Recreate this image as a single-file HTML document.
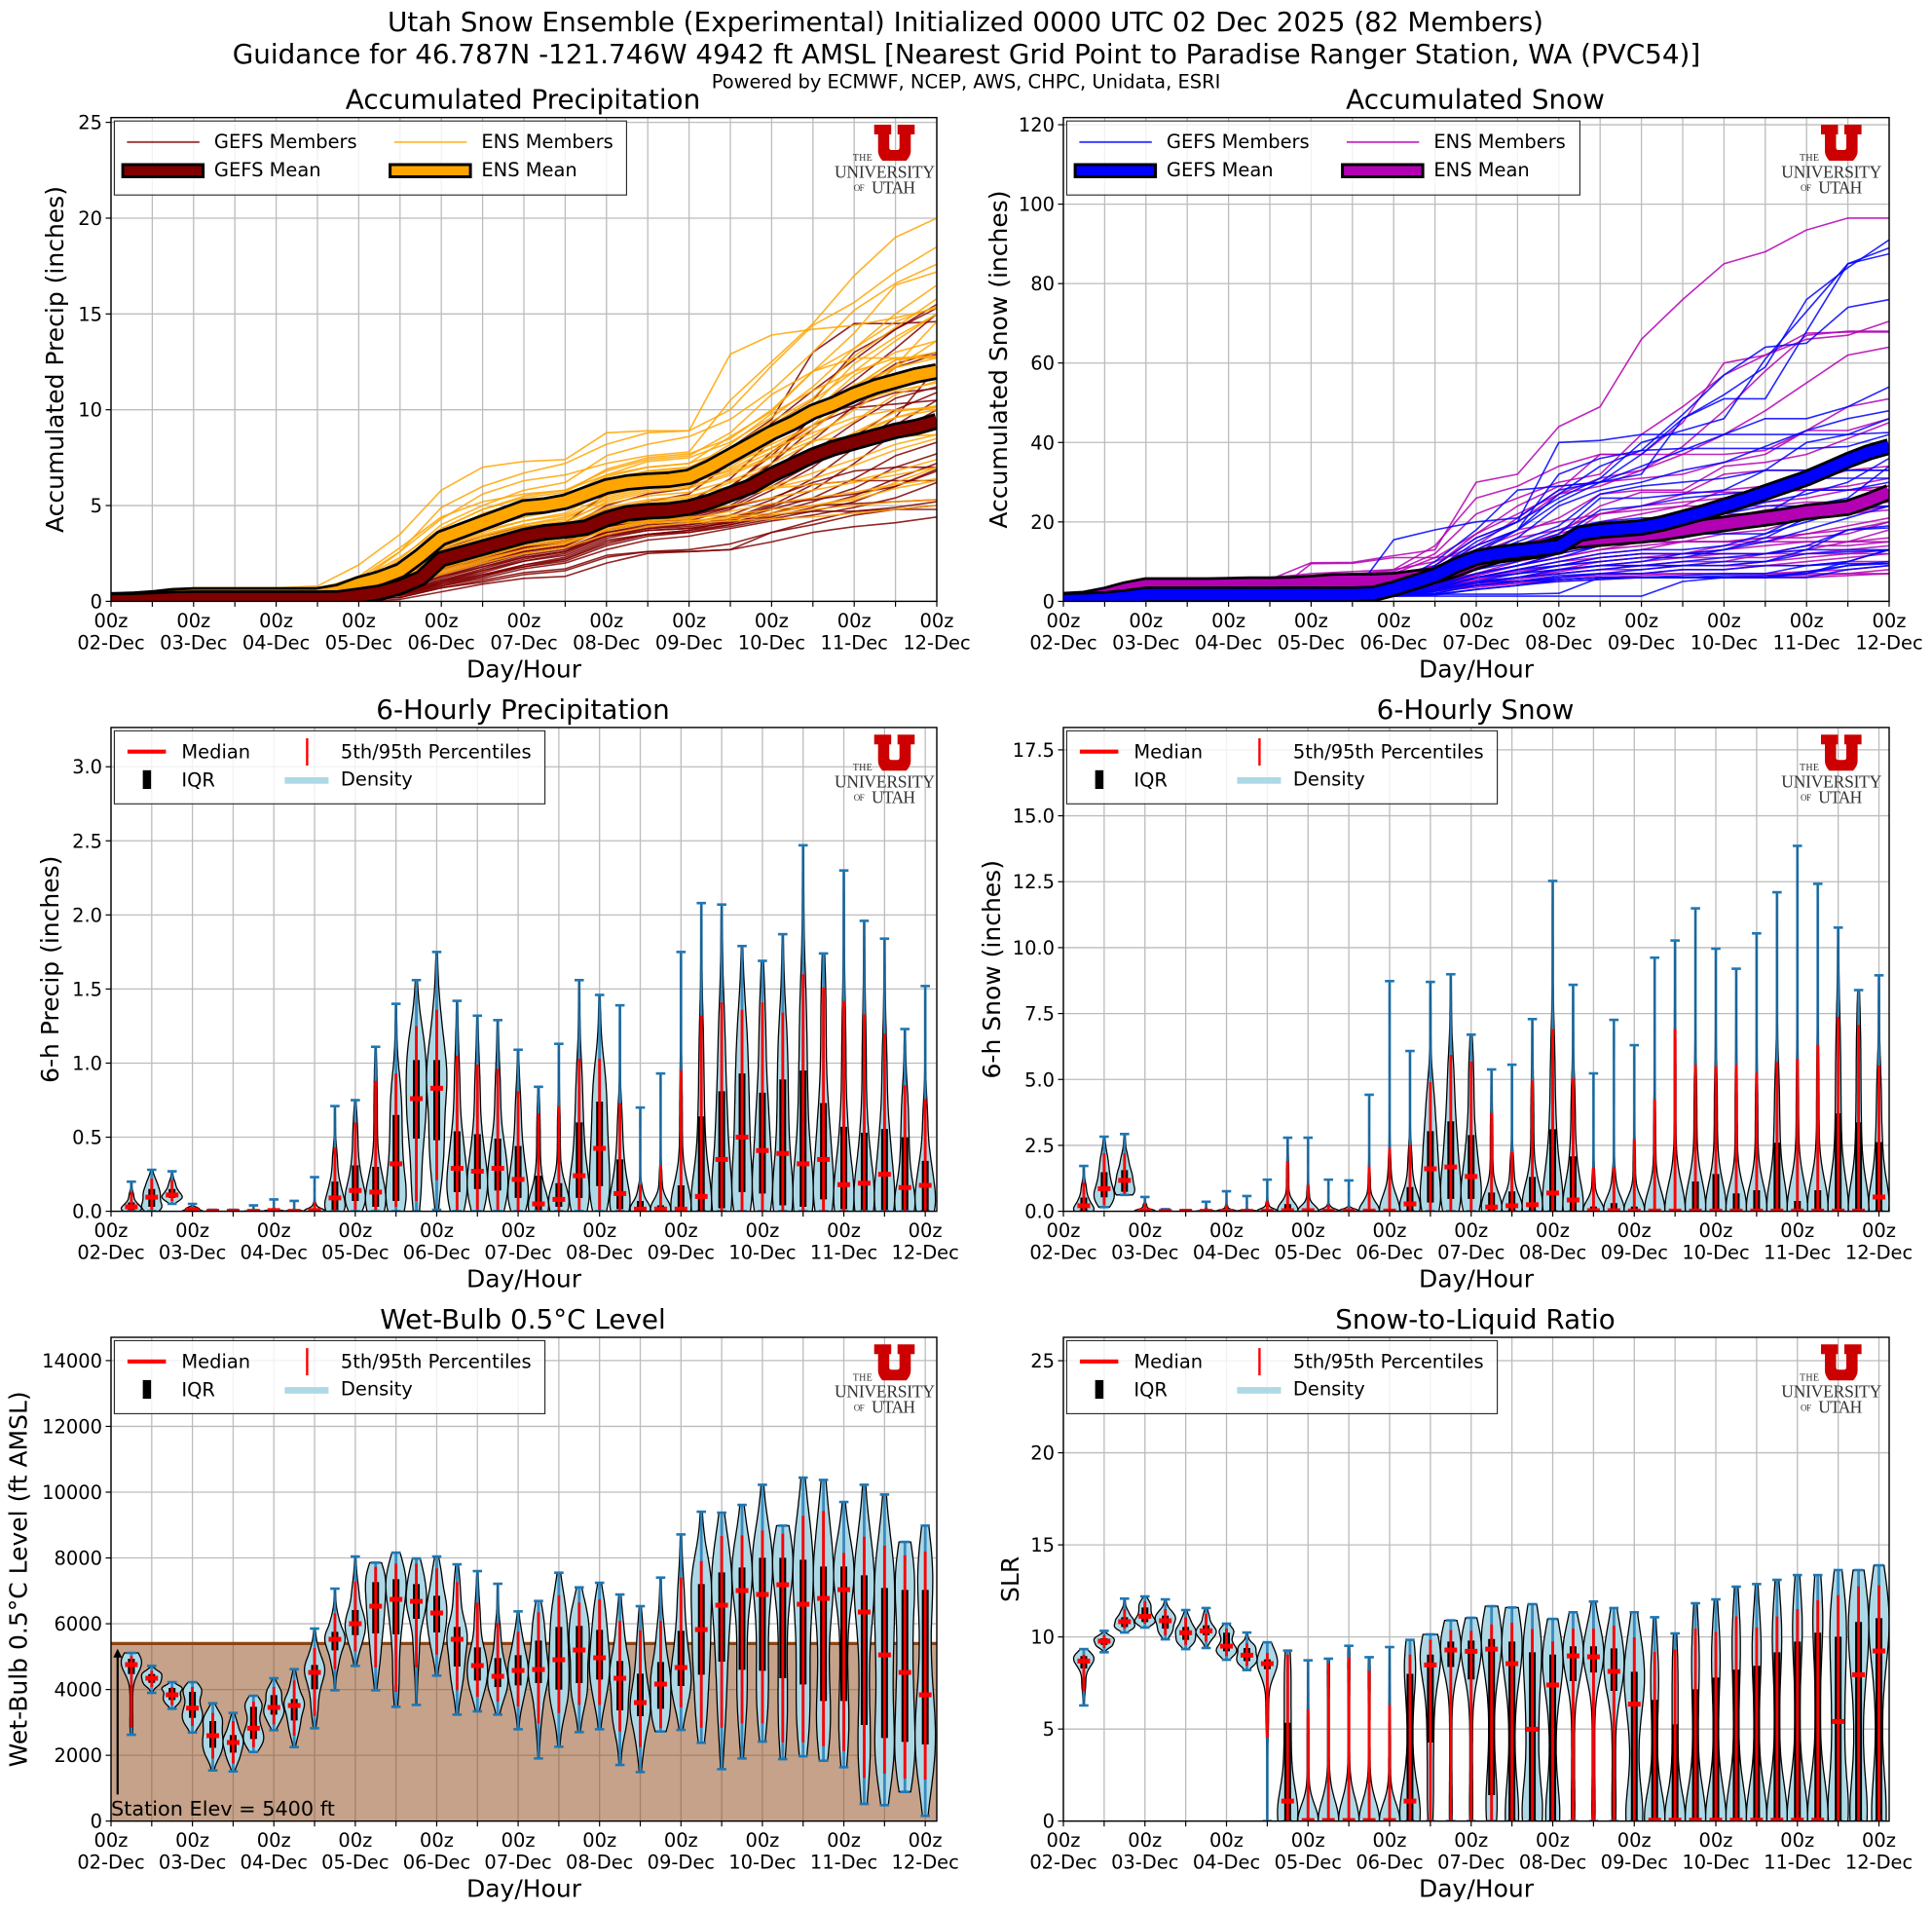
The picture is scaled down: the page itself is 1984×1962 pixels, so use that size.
<!DOCTYPE html>
<html lang="en">
<head>
<meta charset="utf-8">
<title>Utah Snow Ensemble</title>
<style>
html,body{margin:0;padding:0;background:#fff;}
svg{display:block;}
text{font-family:"DejaVu Sans","Liberation Sans",sans-serif;fill:#000;}
.logo-text{font-family:"Liberation Serif",serif;fill:#333;}
</style>
</head>
<body>
<svg id="figure" xmlns="http://www.w3.org/2000/svg" width="1984" height="1962" viewBox="0 0 1984 1962">
  <rect x="0" y="0" width="1984" height="1962" fill="#fff"/>
  <text x="991.5" y="32" text-anchor="middle" font-size="27.8">Utah Snow Ensemble (Experimental) Initialized 0000 UTC 02 Dec 2025 (82 Members)</text>
  <text x="992.5" y="65" text-anchor="middle" font-size="27.8">Guidance for 46.787N -121.746W 4942 ft AMSL [Nearest Grid Point to Paradise Ranger Station, WA (PVC54)]</text>
  <text x="992" y="90.5" text-anchor="middle" font-size="19.44">Powered by ECMWF, NCEP, AWS, CHPC, Unidata, ESRI</text>
  <g id="panel-accum-precip"></g>
  <g id="panel-accum-snow"></g>
  <g id="panel-6h-precip"></g>
  <g id="panel-6h-snow"></g>
  <g id="panel-wet-bulb"></g>
  <g id="panel-slr"></g>
</svg>
<script>
/* ---------- categories and tick labels ---------- */
const dayTickHours = [0,24,48,72,96,120,144,168,192,216,240];
const halfDayTickHours = [12,36,60,84,108,132,156,180,204,228];
const hourTickLabel = '00z';
const dayTickLabels = ['02-Dec','03-Dec','04-Dec','05-Dec','06-Dec','07-Dec','08-Dec','09-Dec','10-Dec','11-Dec','12-Dec'];
const memberHours = [0,12,24,36,48,60,72,84,96,108,120,132,144,156,168,180,192,204,216,228,240];
const meanHours = [0,6,12,18,24,30,36,42,48,54,60,66,72,78,84,90,96,102,108,114,120,126,132,138,144,150,156,162,168,174,180,186,192,198,204,210,216,222,228,234,240];
const violinHours = [6,12,18,24,30,36,42,48,54,60,66,72,78,84,90,96,102,108,114,120,126,132,138,144,150,156,162,168,174,180,186,192,198,204,210,216,222,228,234,240];

const accumPrecipTicks = [0,5,10,15,20,25];
const accumSnowTicks = [0,20,40,60,80,100,120];
const precip6hTicks = [0,0.5,1,1.5,2,2.5,3];
const precip6hTickLabels = ['0.0','0.5','1.0','1.5','2.0','2.5','3.0'];
const snow6hTicks = [0,2.5,5,7.5,10,12.5,15,17.5];
const snow6hTickLabels = ['0.0','2.5','5.0','7.5','10.0','12.5','15.0','17.5'];
const wetBulbTicks = [0,2000,4000,6000,8000,10000,12000,14000];
const slrTicks = [0,5,10,15,20,25];
const stationElevFt = 5400;

/* ---------- accumulated precipitation (inches) ---------- */
const precipGefsMean = [.02,.03,.07,.12,.14,.14,.14,.14,.14,.14,.14,.15,.3,.45,.75,1.2,2.2,2.5,2.8,3.1,3.4,3.6,3.7,3.85,4.3,4.6,4.7,4.75,4.9,5.2,5.6,6,6.6,7.1,7.6,8,8.3,8.6,8.9,9.1,9.4];
const precipEnsMean = [.05,.08,.15,.27,.31,.31,.31,.31,.31,.31,.32,.5,.9,1.2,1.6,2.4,3.3,3.7,4.1,4.5,4.9,5,5.2,5.6,6,6.2,6.3,6.35,6.5,7,7.6,8.2,8.8,9.3,9.9,10.3,10.8,11.2,11.5,11.8,12];
const precipEnsMembers = [
[.3,.5,.7,.7,.7,.7,1.2,2.6,4.3,5.6,6.3,6.6,7.2,7.6,7.8,10.5,12.5,14.5,17,19,20],
[.3,.5,.7,.7,.7,.8,1.9,3.5,5.8,7,7.3,7.4,8.8,8.9,8.9,12.9,13.9,14.2,14.4,14.8,15.3],
[.2,.5,.6,.6,.6,.6,1,2.6,4.9,6,6.7,7.2,8.2,8.8,8.9,10,12.3,14.4,15.6,17.2,18.5],
[.2,.4,.6,.6,.6,.6,.9,2.2,4,5,5.8,6.2,7.6,8.2,8.6,9.5,11,13,15.2,16.6,17.6],
[.2,.4,.6,.6,.6,.6,1.1,2.3,3.8,4.8,5.5,5.8,6.8,7.4,7.6,8.8,10.8,12,14,16.5,17.2],
[.2,.4,.5,.5,.5,.6,1.3,2.8,4.4,5.2,5.6,5.8,6.6,7,7.2,8.6,9.9,12,13.2,15,16.5],
[.2,.4,.6,.6,.6,.6,.8,1.9,3.5,4.6,5.2,5.4,6.4,6.8,7,8,9.4,10.6,12.8,14.3,15.8],
[.2,.4,.5,.5,.5,.6,.9,2,3.6,4.5,5.1,5.5,6.6,7.3,7.5,8.3,9.6,11.2,13.2,14.6,15.4],
[.2,.4,.6,.6,.6,.6,1,2.1,3.7,4.3,4.8,5.2,6.2,6.8,7,7.6,8.8,10.2,12.4,13.8,15],
[.2,.4,.5,.5,.5,.5,.7,1.6,3,3.9,4.5,4.9,5.9,6.4,6.6,7.4,8.6,9.9,11.8,13,13.6],
[.2,.4,.6,.6,.6,.6,.9,1.8,3.2,4.1,4.8,5.1,6,6.5,6.7,7.3,8.2,9.2,11.2,12.6,13],
[.2,.4,.5,.5,.5,.6,.8,1.7,2.9,3.8,4.4,4.8,5.6,6.1,6.3,7,8.3,9.8,11.2,12.6,12.8],
[.2,.4,.5,.5,.5,.5,.8,1.5,2.8,3.6,4.2,4.5,5.5,6,6.2,6.8,7.8,9,10.6,12.2,12.7],
[.2,.3,.5,.5,.5,.5,.6,1.4,2.6,3.4,4,4.4,5.3,5.8,6,6.7,7.6,8.6,10,11.4,12.3],
[.2,.3,.4,.4,.4,.5,.7,1.5,2.7,3.3,3.9,4.2,5.1,5.5,5.7,6.3,7.2,8.3,9.4,10.8,11.5],
[.2,.3,.4,.4,.4,.4,.6,1.3,2.4,3.1,3.7,4,4.9,5.3,5.5,6,6.8,7.8,8.8,9.6,10.2],
[.2,.3,.5,.5,.5,.5,.6,1.2,2.3,3,3.5,3.8,4.7,5.1,5.3,5.8,6.6,7.4,8.6,9.6,10],
[.2,.3,.4,.4,.4,.4,.5,1.1,2.1,2.8,3.4,3.6,4.5,5,5.2,5.6,6.3,7.2,8,8.8,9.3],
[.2,.3,.4,.4,.4,.4,.5,1,2,2.7,3.2,3.5,4.4,4.8,5,5.4,6,6.7,7.4,8.2,8.7],
[.2,.3,.4,.4,.4,.4,.5,.9,1.9,2.6,3.1,3.4,4.2,4.6,4.8,5.3,5.9,6.4,7.1,7.9,8.5],
[.2,.3,.4,.4,.4,.4,.4,.8,1.7,2.4,3,3.3,4,4.4,4.6,5,5.4,5.8,6.2,6.6,7],
[.2,.3,.3,.3,.3,.4,.5,.9,1.8,2.4,2.9,3.1,3.8,4.2,4.3,4.7,5.1,5.4,5.7,6.1,6.4],
[.2,.3,.4,.4,.4,.4,.4,.7,1.5,2.2,2.7,3,3.7,4.1,4.2,4.3,4.5,4.8,5,5.2,5.3],
[.2,.3,.3,.3,.3,.3,.4,.6,1.4,2,2.5,2.8,3.5,3.9,4.1,4.2,4.3,4.4,4.6,4.8,5],
[.2,.4,.6,.6,.6,.6,.8,2,3.8,4.8,5.4,5.7,6.9,7.5,7.7,8.5,10,12,12.7,12.7,12.7],
[.2,.4,.5,.5,.5,.5,.9,2.1,3.4,4.4,5,5.3,6.3,6.7,6.9,8.2,9.8,11,12,12.7,12.8],
[.2,.3,.5,.5,.5,.5,.7,1.8,3.3,4.2,4.7,5,6,6.4,6.6,7.8,9,10,11.3,12.2,13.6],
[.2,.3,.4,.4,.4,.4,.6,1.6,3,3.7,4.2,4.6,5.8,6.3,6.5,7.2,8,8.8,9.6,10,10.1],
[.2,.3,.4,.4,.4,.4,.6,1.4,2.5,3.2,3.8,4.1,5.2,5.7,5.9,6.6,7.5,8.4,8.6,8.6,8.7],
[.2,.3,.4,.4,.4,.5,.7,1.5,2.8,3.5,4,4.3,5.4,5.9,6.1,6.9,8,9.2,10.4,11,11.4],
[.2,.3,.4,.4,.4,.4,.5,1.2,2.2,2.9,3.6,3.9,4.8,5.2,5.4,6.2,7,7.6,8.8,9.9,10.2],
[.2,.3,.3,.3,.3,.4,.5,1,1.9,2.6,3.3,3.6,4.6,4.9,5.1,5.5,5.9,6.1,6.3,6.8,7.4],
[.2,.3,.3,.3,.3,.3,.4,.8,1.6,2.3,2.9,3.2,4,4.2,4.4,4.5,4.8,5,5.3,5.9,6.3],
[.2,.3,.3,.3,.3,.3,.4,.7,1.5,2.1,2.7,3,3.8,4.1,4.2,4.4,4.6,5,5.4,6.2,7],
[.2,.4,.5,.5,.5,.5,.8,1.7,3.1,3.9,4.6,5,6.1,6.6,6.8,7.7,8.9,9.7,10.9,12.3,14.6],
[.2,.4,.5,.5,.5,.6,.9,2,3.5,4.4,5,5.3,6.5,7,7.2,7.9,9.2,10.5,12,13.6,15]
];
const precipGefsMembers = [
[.3,.5,.6,.6,.6,.6,.9,1.6,2.7,3.4,3.9,4.1,5.6,6.2,6.6,8,9.5,13,14.5,14.5,14.6],
[.2,.4,.5,.5,.5,.5,.7,1.3,2.3,2.9,3.4,3.8,5,5.6,5.9,7.5,9.2,10.5,13,14.2,15.5],
[.2,.4,.5,.5,.5,.5,.6,1.1,2.2,2.8,3.5,3.9,4.8,5.2,5.6,7.2,9.3,11,12.6,14.2,15.3],
[.2,.4,.5,.5,.5,.5,.5,1,1.9,2.7,3.3,3.6,4.6,5,5.2,6.4,8.4,10,11.5,13.2,15],
[.2,.3,.4,.4,.4,.4,.5,.9,1.8,2.5,3.2,3.5,4.5,4.9,5.1,6,7.6,9.6,11,12.4,13],
[.2,.3,.4,.4,.4,.4,.4,.8,1.7,2.4,3,3.4,4.3,4.6,4.8,5.8,7.2,9,10.6,12.2,12.9],
[.2,.3,.4,.4,.4,.4,.4,.7,1.6,2.3,2.9,3.2,4.2,4.4,4.6,5.4,6.8,8.4,10.2,11.4,12.2],
[.2,.3,.3,.3,.3,.3,.3,.6,1.5,2.1,2.7,3,3.9,4.2,4.4,5,6.2,7.8,9.3,10.6,11.2],
[.2,.3,.3,.3,.3,.3,.3,.5,1.4,2,2.6,2.9,3.8,4.1,4.2,4.8,5.8,7,8.6,10,10.9],
[.1,.3,.3,.3,.3,.3,.3,.5,1.3,1.9,2.5,2.8,3.6,4,4.1,4.5,5.3,6.4,8,9.2,10.5],
[.1,.2,.3,.3,.3,.3,.3,.4,1.2,1.8,2.4,2.7,3.6,3.9,4,4.3,4.9,5.8,7.2,8.8,10],
[.1,.2,.2,.2,.2,.2,.2,.4,1.1,1.7,2.3,2.6,3.4,3.8,3.9,4.2,4.8,5.4,6.4,7.6,8.3],
[.1,.2,.2,.2,.2,.2,.2,.3,1,1.5,2.1,2.4,3.3,3.7,3.8,4.1,4.6,5.2,5.9,7,7.7],
[.1,.2,.2,.2,.2,.2,.2,.3,.9,1.4,1.9,2.2,3.1,3.5,3.7,4,4.4,4.9,5.5,6.4,7.2],
[.1,.1,.2,.2,.2,.2,.2,.3,.9,1.3,1.8,2.1,2.9,3.4,3.6,3.9,4.3,4.7,5.2,6,6.9],
[.1,.1,.1,.1,.1,.1,.1,.2,.8,1.2,1.7,2,2.7,3.2,3.4,3.8,4.2,4.5,4.9,5.4,6.2],
[.1,.1,.1,.1,.1,.1,.1,.2,.7,1,1.4,1.6,2.3,2.6,2.7,3,3.6,4.2,4.7,4.9,5.2],
[.1,.1,.1,.1,.1,.1,0,.1,.5,.9,1.2,1.3,2,2.5,2.6,2.7,3.1,3.6,3.9,4.1,4.4],
[.1,.1,.1,.1,.1,.1,.1,.2,.7,1.1,1.5,1.7,2.4,2.6,2.6,2.7,3.6,4,4.5,4.8,5],
[.2,.3,.4,.4,.4,.4,.4,.8,1.7,2.2,2.8,3.1,4.1,4.5,4.7,5.6,7.2,9.7,10.2,10.9,11.1],
[.1,.3,.3,.3,.3,.3,.3,.6,1.4,2,2.6,2.9,3.9,4.3,4.5,4.9,5.4,6.2,6.8,7,7],
[.1,.2,.3,.3,.3,.3,.3,.5,1.3,1.8,2.3,2.6,3.5,3.8,4,4.3,5.1,5.3,5.6,6,6.8],
[.1,.2,.2,.2,.2,.2,.2,.4,1.1,1.6,2.1,2.5,3.4,3.7,3.8,4.1,4.6,5,5.1,5.2,5.3],
[.1,.2,.2,.2,.2,.2,.2,.3,1,1.4,1.8,2.2,3,3.5,3.6,4,4.5,4.7,4.7,4.8,4.8],
[.1,.2,.2,.2,.2,.2,.2,.4,1,1.6,2.2,2.6,3.7,4.1,4.3,4.9,6,7.2,8,9.6,12.2],
[.1,.1,.2,.2,.2,.2,.2,.3,.8,1.3,1.9,2.3,3.2,3.5,3.7,4.2,5,6.1,6.3,6.3,6.3],
[.2,.3,.4,.4,.4,.4,.4,.7,1.5,2.2,2.8,3.2,4.4,4.8,5,5.9,7.8,9.2,10.1,10.3,10.5]
];

/* ---------- accumulated snow (inches) ---------- */
const snowGefsMean = [.2,.3,.5,1,1.7,1.7,1.7,1.7,1.7,1.7,1.7,1.7,1.7,1.7,1.7,1.9,3.2,4.8,6.5,9,11,12,12.6,13.2,13.8,17,17.8,18.2,18.6,19.6,21,22.4,24,25.6,27.4,29.2,31,33.2,35.5,37.5,39];
const snowEnsMean = [.3,.6,1.6,3,4,4,4,4,4.1,4.2,4.2,4.3,4.6,5,5.1,5.1,5.3,6,6.5,8,10,11.5,12.2,12.8,14.5,15.4,15.8,16.2,16.6,17.2,18,18.8,19.5,20.2,20.9,21.6,22.5,23,23.6,25.4,27.5];
const snowEnsMembers = [
[1,3,5.5,5.5,5.5,5.5,9.7,9.8,11.5,13,30,32,44,49,66,76,85,88,93.5,96.5,96.5],
[1,3,5.5,5.5,5.5,6,7,7.5,8,14,26,29,34,37,37,45,60,62,66,67,70.5],
[1,3,5,5,5,5.5,6.5,7,7.5,12,22,26,30,32,42,49,57,62,67.5,67.8,67.8],
[1,2.5,5,5,5,5,6,6.5,7,11,17,22,27,31,33,39,48,58,67,68,68],
[1,2.5,5,5,5,5,5.5,6,6.5,9,16,20,27,29,33,37,42,48,55,62,64],
[.8,2.5,4.5,4.5,4.5,4.5,5,6,6.5,9,17,24,29,30,31,32,35,37,43,49,51],
[.8,2.5,4.5,4.5,4.5,4.5,5,5.5,6,8,14,21,28,37,37,37,37,38,43,43,46],
[.8,2.2,4,4,4,4.2,5,5.2,5.5,7,13,17,21,27,28,28,34,35,37,41,45],
[.8,2,4,4,4,4,4.5,4.8,5.2,6.5,12,16,18,22,24,27,32,33,33,35,37],
[.8,2,3.6,3.6,3.6,3.8,4.5,4.8,5,6,11,14,17,20,22,24,28,29,30,33,34],
[.7,2,3.6,3.6,3.6,3.6,4,4.3,4.8,6,10,13,16,19,20,22,24,28,28,29,31],
[.7,1.8,3.2,3.2,3.2,3.4,4,4.2,4.6,5.5,9,12,15,18,19,21,24,25,26,28,29],
[.7,1.8,3.2,3.2,3.2,3.2,3.6,4,4.2,5,8,11,14,16,18,19,21,23,24,24,27],
[.6,1.6,3,3,3,3,3.4,3.6,4,5,7,10,12,14,16,18,19,20,22,24,25],
[.6,1.5,3,3,3,3,3.2,3.4,3.8,4.5,6.5,9,11,13,14,15,17,18,21,22,24],
[.6,1.4,2.6,2.6,2.6,2.8,3,3.2,3.6,4.5,6,8,10,12,13,15,15,15,17,19,21],
[.5,1.3,2.4,2.4,2.4,2.4,2.8,3,3.4,4,6,7.5,9,11,12,12,13,14,15,15,18],
[.5,1.2,2.2,2.2,2.2,2.2,2.6,2.8,3.2,3.8,5.5,7,8,10,11,12,12,12,13,15,15],
[.4,1,2,2,2,2,2.4,2.6,3,3.5,5,6,7.5,9,10,11,11,11,12,13,14],
[.4,1,1.8,1.8,1.8,1.8,2.2,2.4,2.8,3.4,4.5,5.5,7,8,9,9,9,9,10,11,12],
[.4,.9,1.6,1.6,1.6,1.6,2,2.2,2.6,3,4,5,6,6.5,7,7,7,7,7.5,8,9],
[.3,.8,1.4,1.4,1.4,1.4,1.8,2,2.2,2.6,3.5,4.5,5.5,6,6,6,6,6.5,6.5,7,7],
[.5,1.5,3,3,3,3,3.5,3.8,4.2,5.5,9,14,17,24,27.5,27.5,27.5,27.5,28,28,28],
[.5,1.5,3,3,3,3,3.5,3.8,4.2,5,8,12,15,22,24,25,26,28,28,28,29],
[.5,1.4,2.8,2.8,2.8,2.8,3.2,3.5,4,5,8,11,13,18,20,22,22,22,22,24,24],
[.5,1.4,2.6,2.6,2.6,2.6,3,3.3,3.8,4.8,7,9,12,16,17,19,19,19,21,22,23],
[.4,1.3,2.6,2.6,2.6,2.6,3,3.2,3.6,4.6,6.5,9,11,13,15,15,15,16,17,18,20],
[.4,1.3,2.4,2.4,2.4,2.4,2.8,3,3.4,4.2,6,8,10,11,12,12,14,15,15,15,16],
[.4,1.2,2.2,2.2,2.2,2.2,2.6,2.8,3.2,4,5.5,7,9,10,11,11,12,12,14,14,15],
[.4,1.1,2,2,2,2,2.4,2.6,3,3.8,5,6,8,9,9,10,10,12,12,12,13],
[.3,1,1.8,1.8,1.8,1.8,2.2,2.4,2.8,3.6,4.5,6,7,8,8,9,9,10,11,12,12],
[.3,1,1.6,1.6,1.6,1.6,2,2.2,2.6,3.2,4.5,5,6,7,7,8,8,9,9,10,10],
[.3,.9,1.5,1.5,1.5,1.5,2,2.2,2.4,3,4,5,5.5,6,6.5,7,7,7,7,7,8],
[.3,.8,1.4,1.4,1.4,1.4,1.8,2,2.2,2.8,4,4.5,5,5.5,6,6,6,6,6,6.5,7],
[.3,.8,1.4,1.4,1.4,1.4,9.5,9.6,11,11,12,12,14,14,15,15,15,16,16,17,20],
[.4,1,2,2,2,2,6.5,6.7,8,10,14,18,20,22,23,24,24,24,25,25,26]
];
const snowGefsMembers = [
[.5,1,1.5,1.5,1.5,1.5,1.6,2,4,10,18,28,29,30,32,46,52,59,76,84,91],
[.5,1,1.5,1.5,1.5,1.5,1.5,1.8,3,9,16,20,26,31,40,43,46,61,73,85,89],
[.5,1,1.4,1.4,1.4,1.4,1.5,1.7,3,8,14,18,25,30,37,46,51,51,68,85,87.5],
[.5,.9,1.3,1.3,1.3,1.3,1.4,1.6,2.5,7,13,18,27,34,38,47,57,64,65,74,76],
[.5,.9,1.3,1.3,1.3,1.3,1.4,1.5,15.5,18,20,21,28,30,34,38,42,46,46,49,54],
[.4,.8,1.2,1.2,1.2,1.2,1.3,1.5,2.4,8,15,20,40,40.5,42,42,42,42,42,42,42.5],
[.4,.8,1.2,1.2,1.2,1.2,1.3,1.5,2.4,7,12,18,32,36,38,38.5,38.5,38.5,38.5,39,42],
[.4,.8,1.1,1.1,1.1,1.1,1.2,1.4,2.2,6,11,16,24,28,30,33,35,39,43,46,48],
[.4,.7,1,1,1,1,1.1,1.4,2.2,6,11,15,19,27,29,30,31,33,40,42,46],
[.3,.7,1,1,1,1,1.1,1.3,2,5,10,13,17,26,26,27,28,33,33,33,33],
[.3,.6,.9,.9,.9,.9,1,1.3,2,5,9,12,16,23,24,26,27,28,31,36,38],
[.3,.6,.9,.9,.9,.9,1,1.2,1.9,4.5,8,11,14,17,19,20,22,26,31,31,31],
[.3,.6,.8,.8,.8,.8,.9,1.2,1.8,4,7,9,12,14,15,16,18,22,28,28,30],
[.2,.5,.8,.8,.8,.8,.9,1.1,1.7,3.5,6,8,10,12,13,13,14,17,22,24,26],
[.2,.5,.7,.7,.7,.7,.8,1,1.6,3,6,7,9,10,11,11,13,15,18,21,24],
[.2,.5,.7,.7,.7,.7,.8,1,1.5,3,5,6,8,9,9,10,11,12,13,18,18.5],
[.2,.4,.6,.6,.6,.6,.7,.9,1.5,2.5,5,5,6.5,7,8,9,10,10,12,12.5,12.8],
[.2,.4,.5,.5,.5,.5,.6,.9,1.4,2,4,5,5.5,6,6,6.5,7,7,9,9.5,9.5],
[.1,.3,.4,.4,.4,.4,.5,.8,1.4,1.8,1.8,1.8,2,6,6,6,6,6,7,9,10],
[.1,.2,.3,.3,.3,.3,.3,.5,1.3,1.3,1.3,1.3,1.3,1.3,1.3,5,6,6,6,8,9],
[.3,.6,.9,.9,.9,.9,1,1.2,1.9,5,10,14,18,20,21,21,22,25,27,30,36],
[.3,.6,.9,.9,.9,.9,1,1.2,1.8,4.5,9,12,15,19,20,21,24,27,33,33,33],
[.2,.5,.8,.8,.8,.8,.9,1.1,1.7,4,8,10,14,18,18,19,22,24,24,26,34],
[.2,.5,.7,.7,.7,.7,.8,1,1.6,3.5,7,9,11,14,15,17,17,17,20,23,28],
[.2,.5,.7,.7,.7,.7,.8,1,1.5,3,6,8,9,11,12,12,13,16,21,23,24],
[.2,.4,.6,.6,.6,.6,.7,.9,1.5,2.5,5,7,8,9,10,12,12,12,14,18,19],
[.2,.4,.6,.6,.6,.6,.7,.9,1.4,2.5,4.5,6,7,8,9,9,9,10,13,13,13],
[.1,.3,.5,.5,.5,.5,.6,.8,1.4,2,4,5,6,7,7,8,8,9,9,10,13],
[.1,.3,.4,.4,.4,.4,.5,.7,1.3,1.8,3,4,5.5,6,6,6,6.5,6.5,7,10,13],
[.1,.3,.4,.4,.4,.4,.5,.7,1.3,1.6,3,4,5,5.5,6,6,6,6,7.5,9,9.5]
];

/* ---------- 6-hourly precipitation distribution (inches) ---------- */
const precip6hMax = [.20,.28,.27,.05,.01,.01,.04,.08,.07,.23,.71,.75,1.11,1.40,1.56,1.75,1.42,1.32,1.29,1.09,.84,1.13,1.56,1.46,1.39,.70,.93,1.75,2.08,2.07,1.79,1.69,1.87,2.47,1.74,2.30,1.96,1.84,1.23,1.52];
const precip6hP95 = [.13,.22,.21,.03,.005,.005,.01,.02,.01,.06,.43,.60,.88,.93,1.25,1.36,1.05,.99,.96,.81,.66,.71,1.03,1.03,.73,.18,.31,.95,1.32,1.41,1.36,1.41,1.34,1.60,1.51,1.42,1.33,1.20,.85,.76];
const precip6hQ3 = [.06,.15,.15,.02,0,0,0,0,0,.01,.20,.31,.30,.65,1.02,1.02,.54,.52,.49,.44,.24,.19,.60,.74,.35,.07,.04,.175,.64,.81,.93,.80,.89,.95,.73,.57,.53,.555,.50,.34];
const precip6hMedian = [.03,.095,.11,.01,0,0,0,.005,0,.005,.09,.14,.13,.32,.76,.83,.29,.27,.29,.215,.05,.08,.24,.425,.12,.015,.015,.015,.10,.35,.50,.41,.39,.32,.35,.18,.19,.25,.16,.175];
const precip6hQ1 = [.01,.03,.09,0,0,0,0,0,0,0,.01,.07,.03,.07,.49,.48,.13,.15,.14,.09,.01,.03,.09,.17,.015,0,0,0,0,.02,.13,.12,.04,.03,.08,.015,.01,.01,.01,.005];
const precip6hP5 = [0,.01,.07,0,0,0,0,0,0,0,0,.01,.01,.03,.07,.21,.01,.01,.01,0,0,0,.01,.01,0,0,0,0,0,0,0,0,0,0,0,0,0,0,0,0];
const precip6hMin = [0,0,.05,0,0,0,0,0,0,0,0,0,0,0,0,.01,0,0,0,0,0,0,0,0,0,0,0,0,0,0,0,0,0,0,0,0,0,0,0,0];

/* ---------- 6-hourly snow distribution (inches) ---------- */
const snow6hMax = [1.72,2.83,2.93,.54,.08,.05,.36,.76,.58,1.2,2.79,2.79,1.2,1.17,4.42,8.73,6.08,8.70,8.99,6.70,5.38,5.56,7.29,12.53,8.59,5.23,7.26,6.30,9.62,10.27,11.49,9.96,9.20,10.54,12.10,13.86,12.42,10.76,8.39,8.95];
const snow6hP95 = [1.1,2.2,2.2,.3,.02,.02,.12,.25,.06,.4,1.9,1.0,.25,.12,1.7,2.4,2.52,4.9,5.93,5.68,3.73,2.25,4.96,6.91,5.04,1.66,1.68,2.73,4.24,6.91,5.56,5.5,5.56,5.26,5.66,5.78,6.31,7.38,7.07,5.53];
const snow6hQ3 = [.52,1.48,1.56,.1,0,0,0,.01,0,.04,.27,.06,.04,.03,.01,.02,.92,3.04,3.41,2.89,.71,.75,1.30,3.11,2.08,.18,.31,.18,.03,.03,1.13,1.41,.68,.8,2.6,.39,.8,3.71,3.37,2.62];
const snow6hMedian = [.21,.86,1.17,.02,0,0,0,0,0,.01,.02,.02,.01,.01,.01,.01,.28,1.61,1.68,1.32,.16,.21,.25,.69,.43,.02,.02,.01,.01,.01,.01,.01,.01,.01,.01,.01,.01,.01,.01,.54];
const snow6hQ1 = [0,.53,.74,0,0,0,0,0,0,0,0,0,0,0,0,0,0,.33,.47,.47,0,0,.03,.01,0,0,0,0,0,0,0,0,0,0,0,0,0,0,0,0];
const snow6hP5 = [0,.25,.65,0,0,0,0,0,0,0,0,0,0,0,0,0,0,0,0,0,0,0,0,0,0,0,0,0,0,0,0,0,0,0,0,0,0,0,0,0];
const snow6hMin = [0,.16,.62,0,0,0,0,0,0,0,0,0,0,0,0,0,0,0,0,0,0,0,0,0,0,0,0,0,0,0,0,0,0,0,0,0,0,0,0,0];

/* ---------- wet-bulb 0.5C level distribution (ft AMSL) ---------- */
const wetBulbMax = [5113,4718,4224,4224,3583,3287,3810,4343,4619,5853,7067,8044,7857,8162,7985,8044,7807,7600,7215,6376,6692,7551,7106,7245,6889,6534,7403,8715,9406,9377,9613,10225,8982,10442,10373,9702,10225,9929,8488,8982];
const wetBulbP95 = [5014,4570,4076,4076,3287,3040,3632,4076,4274,5261,6317,7284,7728,7827,7827,7679,7264,6643,6021,5754,6346,6860,6643,6741,6080,5804,6080,7403,7906,8666,8686,8834,8735,9278,9426,8153,8646,8370,8074,8192];
const wetBulbQ3 = [4935,4471,4047,3928,3040,2616,3474,3830,3711,4747,5754,6416,7264,7353,7205,6850,5902,5280,4955,5044,5488,5902,5932,5813,4866,4481,4836,5784,7205,7560,7708,8004,8004,7945,7738,7738,7472,7087,7027,7027];
const wetBulbMedian = [4757,4343,3839,3435,2596,2389,2823,3455,3514,4520,5527,6001,6534,6741,6682,6327,5527,4728,4402,4580,4609,4905,5201,4965,4343,3603,4165,4669,5823,6564,7008,6889,7185,6593,6771,7037,6356,5053,4520,3839];
const wetBulbQ1 = [4471,4205,3681,3139,2231,2083,2497,3237,3060,4007,5192,5655,5705,5675,6149,5734,4698,4274,4076,4126,4195,3997,4195,4303,3366,3188,3415,4106,4451,4846,4599,4570,4343,4155,3652,3652,2921,2527,2408,2329];
const wetBulbP5 = [2843,4076,3533,2892,1905,1757,2250,2941,2596,3188,4619,5162,4669,3928,4669,5063,3978,3780,3632,3484,2971,3287,3533,3533,2724,2250,2823,3455,2843,2843,2971,2971,2398,2398,2280,2132,1313,1441,1293,1263];
const wetBulbMin = [2625,3899,3415,2694,1540,1510,2102,2764,2250,2823,3978,4718,3978,3474,3533,4422,3237,3336,3237,2793,1905,2260,2704,2793,1708,1490,2724,2773,2379,1579,1905,2418,1885,1974,1836,1638,523,484,888,158];

/* ---------- snow-to-liquid ratio distribution ---------- */
const slrMax = [9.34,10.33,12.08,12.2,12.04,11.46,11.57,10.72,10.24,9.71,9.26,8.73,8.82,9.52,8.9,9.45,9.84,10.14,10.9,11.04,11.67,11.6,11.78,10.98,11.34,11.92,11.57,11.34,11.07,10.19,11.83,12.04,12.73,12.87,13.1,13.36,13.36,13.63,13.63,13.89];
const slrP95 = [9.04,10.10,11.51,11.95,11.51,11.07,11.25,10.45,9.66,9.13,9.04,6.05,8.57,8.87,8.16,6.31,9.04,9.84,10.37,10.33,10.68,10.77,10.42,9.75,10.45,10.45,10.6,9.98,9.19,9.31,10.45,10.28,11.11,10.51,11.11,11.51,11.99,12.27,12.75,12.8];
const slrQ3 = [8.96,9.93,11.07,11.6,11.16,10.54,10.63,10.23,9.4,8.78,5.34,0,0,0,0,0,8.0,9.04,9.75,9.8,9.89,9.75,9.17,9.04,9.49,9.49,9.38,8.11,6.58,5.25,7.16,7.79,8.22,8.43,9.17,9.75,10.23,10.01,10.81,11.02];
const slrMedian = [8.69,9.77,10.83,11.12,10.88,10.23,10.33,9.5,9.01,8.55,1.09,.03,.03,.03,.03,.03,1.09,8.48,9.29,9.22,9.34,8.55,4.99,7.39,8.97,8.92,8.13,6.35,.05,.05,.05,.05,.05,.05,.05,.05,.05,5.41,7.95,9.24];
const slrQ1 = [8.29,9.57,10.54,10.81,10.45,9.84,10.1,9.22,8.69,8.25,0,0,0,0,0,0,0,4.27,8.37,7.69,1.41,0,0,0,7.6,8.07,7.07,0,0,0,0,0,0,0,0,0,0,0,0,0];
const slrP5 = [7.05,9.4,10.45,10.72,10.1,9.57,9.75,8.96,8.43,4.55,0,0,0,0,0,0,0,0,0,0,0,0,0,0,0,0,0,0,0,0,0,0,0,0,0,0,0,0,0,0];
const slrMin = [6.28,9.17,10.24,10.51,9.87,9.34,9.4,8.76,8.2,0,0,0,0,0,0,0,0,0,0,0,0,0,0,0,0,0,0,0,0,0,0,0,0,0,0,0,0,0,0,0];

/* ---------- layout constants ---------- */
const NS = 'http://www.w3.org/2000/svg';
const AX_W = 848, AX_H = 496.7;
const COL_X = [114, 1092];
const ROW_Y = [120.7, 746.9, 1373];
const LOGO_X = [897.7, 1870];
const VIOLIN_HALF_WIDTH_HOURS = 3;
let clipCounter = 0;

function add(parent, tag, attrs, text) {
  const e = document.createElementNS(NS, tag);
  for (const k in attrs) e.setAttribute(k, attrs[k]);
  if (text !== undefined) e.textContent = text;
  parent.appendChild(e);
  return e;
}

function makeAxes(id, col, row, xMax, yMax, title, yLabel, yLabelX) {
  const root = document.getElementById(id);
  const left = COL_X[col], top = ROW_Y[row], bottom = top + AX_H, right = left + AX_W;
  const x = h => left + h / xMax * AX_W;
  const y = v => bottom - v / yMax * AX_H;
  const clip = 'clip' + (clipCounter++);
  const defs = add(root, 'defs', {});
  const cp = add(defs, 'clipPath', {id: clip});
  add(cp, 'rect', {x: left, y: top, width: AX_W, height: AX_H});

  const titleEl = add(root, 'text', {x: left + AX_W / 2 - 1, y: top - 9, 'text-anchor': 'middle', 'font-size': 27.8}, title);
  
  

  const yl = add(root, 'text', {x: yLabelX, y: top + AX_H / 2, 'text-anchor': 'middle', 'font-size': 25,
    transform: 'rotate(-90 ' + yLabelX + ' ' + (top + AX_H / 2) + ')'}, yLabel);
  
  

  const xl = add(root, 'text', {x: left + AX_W / 2, y: bottom + 78, 'text-anchor': 'middle', 'font-size': 25}, 'Day/Hour');
  
  

  const grid = add(root, 'g', {stroke: '#bcbcbc', 'stroke-width': 1.3});
  
  
  dayTickHours.concat(halfDayTickHours).forEach(h => {
    add(grid, 'line', {x1: x(h), x2: x(h), y1: top, y2: bottom});
  });

  const marks = add(root, 'g', {'clip-path': 'url(#' + clip + ')'});
  
  

  const over = add(root, 'g', {});
  
  
  add(over, 'rect', {x: left, y: top, width: AX_W, height: AX_H, fill: 'none', stroke: '#000', 'stroke-width': 1.4});
  dayTickHours.concat(halfDayTickHours).forEach(h => {
    add(over, 'line', {x1: x(h), x2: x(h), y1: bottom, y2: bottom + 5.5, stroke: '#000', 'stroke-width': 1.2});
  });
  dayTickHours.forEach((h, i) => {
    const a = add(over, 'text', {x: x(h), y: bottom + 26.5, 'text-anchor': 'middle', 'font-size': 19.44}, hourTickLabel);
    
    
    const b = add(over, 'text', {x: x(h), y: bottom + 49, 'text-anchor': 'middle', 'font-size': 19.44}, dayTickLabels[i]);
    
    
  });
  return {root, left, right, top, bottom, x, y, grid, marks, over, col, row};
}

function yTicks(ax, ticks, labels) {
  ticks.forEach((t, i) => {
    add(ax.grid, 'line', {x1: ax.left, x2: ax.right, y1: ax.y(t), y2: ax.y(t)});
    add(ax.over, 'line', {x1: ax.left - 5.5, x2: ax.left, y1: ax.y(t), y2: ax.y(t), stroke: '#000', 'stroke-width': 1.2});
    const lab = add(ax.over, 'text', {x: ax.left - 9, y: ax.y(t) + 7, 'text-anchor': 'end', 'font-size': 19.44}, labels[i]);
    
    
  });
}

function drawLogo(ax) {
  const ox = LOGO_X[ax.col], oy = ax.top + 7.3;
  const g = add(ax.over, 'g', {});
  
  
  const d = 'M0 0H17.5V10H15.5V23.5Q15.5 26 18 26H23.5Q26 26 26 23.5V10H24V0H41.6V10H37.6V27Q37.6 32 33 37H8.5Q4 32 4 27V10H0Z';
  add(g, 'path', {d: d, transform: 'translate(' + ox + ' ' + oy + ')', fill: '#cc0000'});
  const t1 = add(g, 'text', {x: ox - 22, y: oy + 37, 'font-size': 10, textLength: 20, class: 'logo-text'}, 'THE');
  
  
  const t2 = add(g, 'text', {x: ox - 40.7, y: oy + 54.3, 'font-size': 17.5, textLength: 103, class: 'logo-text'}, 'UNIVERSITY');
  
  
  const t3 = add(g, 'text', {x: ox - 21, y: oy + 68, 'font-size': 9, textLength: 11, class: 'logo-text'}, 'OF');
  
  
  const t4 = add(g, 'text', {x: ox - 2.7, y: oy + 70.3, 'font-size': 17.5, textLength: 45, class: 'logo-text'}, 'UTAH');
  
  
}

function polyPoints(ax, hours, values) {
  return values.map((v, i) => ax.x(hours[i]).toFixed(1) + ',' + ax.y(v).toFixed(1)).join(' ');
}

function drawMembers(ax, members, color, opacity, name) {
  const g = add(ax.marks, 'g', {fill: 'none', stroke: color, 'stroke-width': 1.6, 'stroke-opacity': opacity, 'stroke-linejoin': 'round'});
  
  
  members.forEach(m => {
    const p = add(g, 'polyline', {points: polyPoints(ax, memberHours, m)});
    
    
  });
}

function drawMean(ax, values, color, name) {
  const g = add(ax.marks, 'g', {fill: 'none', 'stroke-linejoin': 'round'});
  
  
  add(g, 'polyline', {points: polyPoints(ax, meanHours, values), stroke: '#000', 'stroke-width': 17});
  add(g, 'polyline', {points: polyPoints(ax, meanHours, values), stroke: color, 'stroke-width': 11.5});
}

function drawLineLegend(ax, color1, color2, mean1, mean2, widthPx, secondOffset, textOffset) {
  const lx = ax.left + 3.4, ly = ax.top + 3.5;
  const g = add(ax.over, 'g', {});
  
  
  add(g, 'rect', {x: lx, y: ly, width: widthPx, height: 76, fill: '#fff', 'fill-opacity': .8, stroke: '#222', 'stroke-width': 1.1});
  [[color1.c, color1.o, 'GEFS Members', mean1, 'GEFS Mean', 0], [color2.c, color2.o, 'ENS Members', mean2, 'ENS Mean', secondOffset]].forEach(row => {
    const dx = lx + row[5];
    add(g, 'line', {x1: dx + 13, x2: dx + 87.4, y1: ly + 21.7, y2: ly + 21.7, stroke: row[0], 'stroke-opacity': row[1], 'stroke-width': 2});
    add(g, 'rect', {x: dx + 8.7, y: ly + 44.8, width: 82.5, height: 12.5, fill: row[3], stroke: '#000', 'stroke-width': 3});
    const a = add(g, 'text', {x: dx + textOffset, y: ly + 28, 'font-size': 19.44}, row[2]);
    
    
    const b = add(g, 'text', {x: dx + textOffset, y: ly + 57, 'font-size': 19.44}, row[4]);
    
    
  });
}

function drawViolinLegend(ax) {
  const lx = ax.left + 3.4, ly = ax.top + 3.4;
  const g = add(ax.over, 'g', {});
  
  
  add(g, 'rect', {x: lx, y: ly, width: 442.2, height: 75, fill: '#fff', 'fill-opacity': .8, stroke: '#222', 'stroke-width': 1.1});
  add(g, 'line', {x1: lx + 13.5, x2: lx + 53, y1: ly + 21.4, y2: ly + 21.4, stroke: '#f00', 'stroke-width': 4.2});
  add(g, 'line', {x1: lx + 33.5, x2: lx + 33.5, y1: ly + 40.5, y2: ly + 59.7, stroke: '#000', 'stroke-width': 8.5});
  add(g, 'line', {x1: lx + 198, x2: lx + 198, y1: ly + 7.7, y2: ly + 35.7, stroke: '#f00', 'stroke-width': 2.4});
  add(g, 'rect', {x: lx + 175, y: ly + 47.7, width: 45, height: 6.7, fill: '#add8e6'});
  [['Median', 69, 28.2], ['IQR', 69, 57.3], ['5th/95th Percentiles', 232.5, 28.2], ['Density', 232.5, 56.3]].forEach(e => {
    const t = add(g, 'text', {x: lx + e[1], y: ly + e[2], 'font-size': 19.44}, e[0]);
    
    
  });
}

/* Density outline estimated from each violin's own summary values. */
function densityProfile(minV, p5, q1, med, q3, p95, maxV) {
  const knotsP = [0, .05, .25, .5, .75, .95, 1];
  const knotsV = [minV, p5, q1, med, q3, p95, maxV];
  const n = 60, sample = [];
  for (let i = 0; i < n; i++) {
    const p = (i + .5) / n;
    let k = 0;
    while (k < 5 && p > knotsP[k + 1]) k++;
    const f = (p - knotsP[k]) / (knotsP[k + 1] - knotsP[k]);
    sample.push(knotsV[k] + f * (knotsV[k + 1] - knotsV[k]));
  }
  const mean = sample.reduce((a, b) => a + b, 0) / n;
  const sd = Math.sqrt(sample.reduce((a, b) => a + (b - mean) * (b - mean), 0) / n);
  const h = Math.max(sd * .414, (maxV - minV) * .02, 1e-6);
  const steps = 48, out = [];
  let peak = 0;
  for (let j = 0; j <= steps; j++) {
    const v = minV + (maxV - minV) * j / steps;
    let d = 0;
    sample.forEach(s => { d += Math.exp(-.5 * Math.pow((v - s) / h, 2)); });
    out.push([v, d]);
    if (d > peak) peak = d;
  }
  return out.map(o => [o[0], o[1] / peak]);
}

function drawViolins(ax, mins, p5s, q1s, medians, q3s, p95s, maxes) {
  const layer = add(ax.marks, 'g', {});
  
  
  violinHours.forEach((h, i) => {
    const g = add(layer, 'g', {});
    
    
    const prof = densityProfile(mins[i], p5s[i], q1s[i], medians[i], q3s[i], p95s[i], maxes[i]);
    const rightSide = prof.map(p => ax.x(h + p[1] * VIOLIN_HALF_WIDTH_HOURS).toFixed(1) + ',' + ax.y(p[0]).toFixed(1));
    const leftSide = prof.slice().reverse().map(p => ax.x(h - p[1] * VIOLIN_HALF_WIDTH_HOURS).toFixed(1) + ',' + ax.y(p[0]).toFixed(1));
    const cx = ax.x(h);
    add(g, 'polygon', {points: rightSide.concat(leftSide).join(' '), fill: '#add8e6', stroke: '#000', 'stroke-width': 1.3});
    add(g, 'line', {x1: cx, x2: cx, y1: ax.y(mins[i]), y2: ax.y(maxes[i]), stroke: '#1f77b4', 'stroke-opacity': .82, 'stroke-width': 2.8});
    add(g, 'line', {x1: cx - 4.8, x2: cx + 4.8, y1: ax.y(maxes[i]), y2: ax.y(maxes[i]), stroke: '#1f77b4', 'stroke-width': 2.6});
    add(g, 'line', {x1: cx - 4.8, x2: cx + 4.8, y1: ax.y(mins[i]), y2: ax.y(mins[i]), stroke: '#1f77b4', 'stroke-width': 2.6});
    add(g, 'line', {x1: cx, x2: cx, y1: ax.y(q1s[i]), y2: ax.y(q3s[i]), stroke: '#000', 'stroke-width': 7});
    add(g, 'line', {x1: cx, x2: cx, y1: ax.y(p5s[i]), y2: ax.y(p95s[i]), stroke: '#f00', 'stroke-width': 2.8});
    add(g, 'line', {x1: cx - 6.5, x2: cx + 6.5, y1: ax.y(medians[i]), y2: ax.y(medians[i]), stroke: '#f00', 'stroke-width': 5});
  });
}

/* ---------- panel 1: accumulated precip ---------- */
const ax1 = makeAxes('panel-accum-precip', 0, 0, 240, 25.25, 'Accumulated Precipitation', 'Accumulated Precip (inches)', 65);
yTicks(ax1, accumPrecipTicks, accumPrecipTicks.map(String));
drawMembers(ax1, precipGefsMembers, '#800000', .85, 'gefs-member-lines');
drawMembers(ax1, precipEnsMembers, '#ffa500', .85, 'ens-member-lines');
drawMean(ax1, precipEnsMean, '#ffa500', 'ens-mean-line');
drawMean(ax1, precipGefsMean, '#800000', 'gefs-mean-line');
drawLineLegend(ax1, {c: '#800000', o: .75}, {c: '#ffa500', o: .7}, '#800000', '#ffa500', 526, 274.5, 102.5);
drawLogo(ax1);

/* ---------- panel 2: accumulated snow ---------- */
const ax2 = makeAxes('panel-accum-snow', 1, 0, 240, 121.8, 'Accumulated Snow', 'Accumulated Snow (inches)', 1034);
yTicks(ax2, accumSnowTicks, accumSnowTicks.map(String));
drawMembers(ax2, snowEnsMembers, '#b300b3', .85, 'ens-member-lines');
drawMembers(ax2, snowGefsMembers, '#0000ff', .85, 'gefs-member-lines');
drawMean(ax2, snowEnsMean, '#b300b3', 'ens-mean-line');
drawMean(ax2, snowGefsMean, '#0000ff', 'gefs-mean-line');
drawLineLegend(ax2, {c: '#0000ff', o: .75}, {c: '#b300b3', o: .75}, '#0000ff', '#b300b3', 527, 274.5, 102.5);
drawLogo(ax2);

/* ---------- panel 3: 6-hourly precip ---------- */
const ax3 = makeAxes('panel-6h-precip', 0, 1, 243.4, 3.265, '6-Hourly Precipitation', '6-h Precip (inches)', 60);
yTicks(ax3, precip6hTicks, precip6hTickLabels);
drawViolins(ax3, precip6hMin, precip6hP5, precip6hQ1, precip6hMedian, precip6hQ3, precip6hP95, precip6hMax);
drawViolinLegend(ax3);
drawLogo(ax3);

/* ---------- panel 4: 6-hourly snow ---------- */
const ax4 = makeAxes('panel-6h-snow', 1, 1, 243, 18.35, '6-Hourly Snow', '6-h Snow (inches)', 1027);
yTicks(ax4, snow6hTicks, snow6hTickLabels);
drawViolins(ax4, snow6hMin, snow6hP5, snow6hQ1, snow6hMedian, snow6hQ3, snow6hP95, snow6hMax);
drawViolinLegend(ax4);
drawLogo(ax4);

/* ---------- panel 5: wet-bulb level ---------- */
const ax5 = makeAxes('panel-wet-bulb', 0, 2, 243.4, 14708, 'Wet-Bulb 0.5°C Level', 'Wet-Bulb 0.5°C Level (ft AMSL)', 27.5);
yTicks(ax5, wetBulbTicks, wetBulbTicks.map(String));
const terrain = add(ax5.marks, 'rect', {x: ax5.left, y: ax5.y(stationElevFt), width: AX_W, height: ax5.bottom - ax5.y(stationElevFt), fill: '#8b4513', 'fill-opacity': .5});


const elevLine = add(ax5.marks, 'line', {x1: ax5.left, x2: ax5.right, y1: ax5.y(stationElevFt), y2: ax5.y(stationElevFt), stroke: '#8b4513', 'stroke-width': 3.2});


drawViolins(ax5, wetBulbMin, wetBulbP5, wetBulbQ1, wetBulbMedian, wetBulbQ3, wetBulbP95, wetBulbMax);
const arrowTipY = ax5.y(stationElevFt * .97), arrowBaseY = ax5.y(stationElevFt * .15), arrowX = ax5.x(1.95);
const arrowShaft = add(ax5.over, 'line', {x1: arrowX, x2: arrowX, y1: arrowBaseY, y2: arrowTipY + 6, stroke: '#000', 'stroke-width': 2.2});


const arrowHead = add(ax5.over, 'polygon', {points: (arrowX - 4.5) + ',' + (arrowTipY + 9) + ' ' + arrowX + ',' + arrowTipY + ' ' + (arrowX + 4.5) + ',' + (arrowTipY + 9), fill: '#000'});


const elevText = add(ax5.over, 'text', {x: ax5.left, y: ax5.bottom - 5.5, 'font-size': 20.8}, 'Station Elev = 5400 ft');


drawViolinLegend(ax5);
drawLogo(ax5);

/* ---------- panel 6: SLR ---------- */
const ax6 = makeAxes('panel-slr', 1, 2, 243, 26.27, 'Snow-to-Liquid Ratio', 'SLR', 1046);
yTicks(ax6, slrTicks, slrTicks.map(String));
drawViolins(ax6, slrMin, slrP5, slrQ1, slrMedian, slrQ3, slrP95, slrMax);
drawViolinLegend(ax6);
drawLogo(ax6);
</script>
</body>
</html>
